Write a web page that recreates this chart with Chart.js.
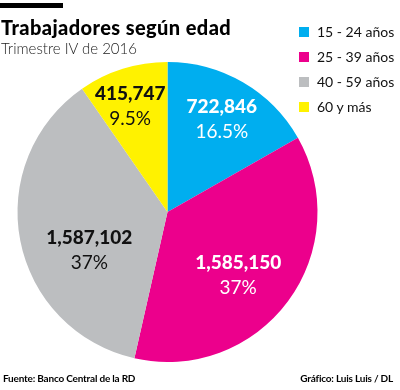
<!DOCTYPE html>
<html>
<head>
<meta charset="utf-8">
<script src="https://cdn.jsdelivr.net/npm/chart.js@4"></script>
<style>
  body { margin: 0; background: #fff; font-family: Lato, sans-serif; }
  #wrap { position: relative; width: 400px; height: 390px; overflow: hidden; }
  #chart { position: absolute; left: 0; top: 0; }
  .bar { position: absolute; left: 0; top: 3px; width: 63px; height: 5px; background: #000; }
  .title { position: absolute; left: 1px; top: 15px; font-weight: 900; font-size: 20px; letter-spacing: 0.4px; color: #000; }
  .sub { position: absolute; left: 1px; top: 39px; font-weight: 300; font-size: 15px; color: #222; }
  #legend { position: absolute; left: 299px; top: 19px; }
  .item { height: 25px; display: flex; align-items: center; font-size: 14px; color: #111; font-weight: 400; }
  .sw { width: 10px; height: 10px; margin-right: 8px; }
  .foot { position: absolute; top: 372px; font-size: 10px; font-weight: 700; color: #000; letter-spacing: -0.2px; }
</style>
</head>
<body>
<div id="wrap">
  <canvas id="chart" width="400" height="390"></canvas>
  <div class="bar"></div>
  <div class="title">Trabajadores según edad</div>
  <div class="sub">Trimestre IV de 2016</div>
  <div id="legend"></div>
  <div class="foot" style="left:3px">Fuente: Banco Central de la RD</div>
  <div class="foot" style="right:7px">Gráfico: Luis Luis / DL</div>
</div>
<script>
// data
const categories = ['15 - 24 años', '25 - 39 años', '40 - 59 años', '60 y más'];
const workers = [722846, 1585150, 1587102, 415747];
const shareLabels = ['16.5%', '37%', '37%', '9.5%'];
const sliceColors = ['#00aeef', '#ec008c', '#bcbec0', '#fff200'];
const textColors = ['#fff', '#fff', '#111', '#111'];

// legend
const legendEl = document.getElementById('legend');
categories.forEach((c, i) => {
  const row = document.createElement('div');
  row.className = 'item';
  row.innerHTML = `<span class="sw" style="background:${sliceColors[i]}"></span><span>${c}</span>`;
  legendEl.appendChild(row);
});

// labels inside slices: radius factor + angle nudge (deg) per slice
const labelPlugin = {
  id: 'sliceLabels',
  afterDatasetsDraw(chart, args, opts) {
    const ctx = chart.ctx;
    const meta = chart.getDatasetMeta(0);
    meta.data.forEach((arc, i) => {
      const p = arc.getProps(['x', 'y', 'startAngle', 'endAngle', 'outerRadius'], true);
      const a = (p.startAngle + p.endAngle) / 2 + opts.nudge[i] * Math.PI / 180;
      const r = p.outerRadius * opts.radius[i];
      const x = p.x + Math.cos(a) * r;
      const y = p.y + Math.sin(a) * r;
      ctx.save();
      ctx.textAlign = 'center';
      ctx.textBaseline = 'middle';
      ctx.fillStyle = textColors[i];
      ctx.font = '900 19px Lato';
      ctx.fillText(workers[i].toLocaleString('en-US'), x, y - 12);
      ctx.font = '400 19px Lato';
      ctx.fillText(shareLabels[i], x, y + 13);
      ctx.restore();
    });
  }
};

new Chart(document.getElementById('chart'), {
  type: 'pie',
  data: {
    labels: categories,
    datasets: [{
      data: workers,
      backgroundColor: sliceColors,
      borderWidth: 0
    }]
  },
  options: {
    responsive: false,
    animation: false,
    layout: { padding: { left: 17.5, top: 62, right: 82.5, bottom: 28 } },
    plugins: {
      legend: { display: false },
      tooltip: { enabled: false },
      sliceLabels: { radius: [0.72, 0.63, 0.58, 0.75], nudge: [0, 5, -15, -2] }
    }
  },
  plugins: [labelPlugin]
});
</script>
</body>
</html>
